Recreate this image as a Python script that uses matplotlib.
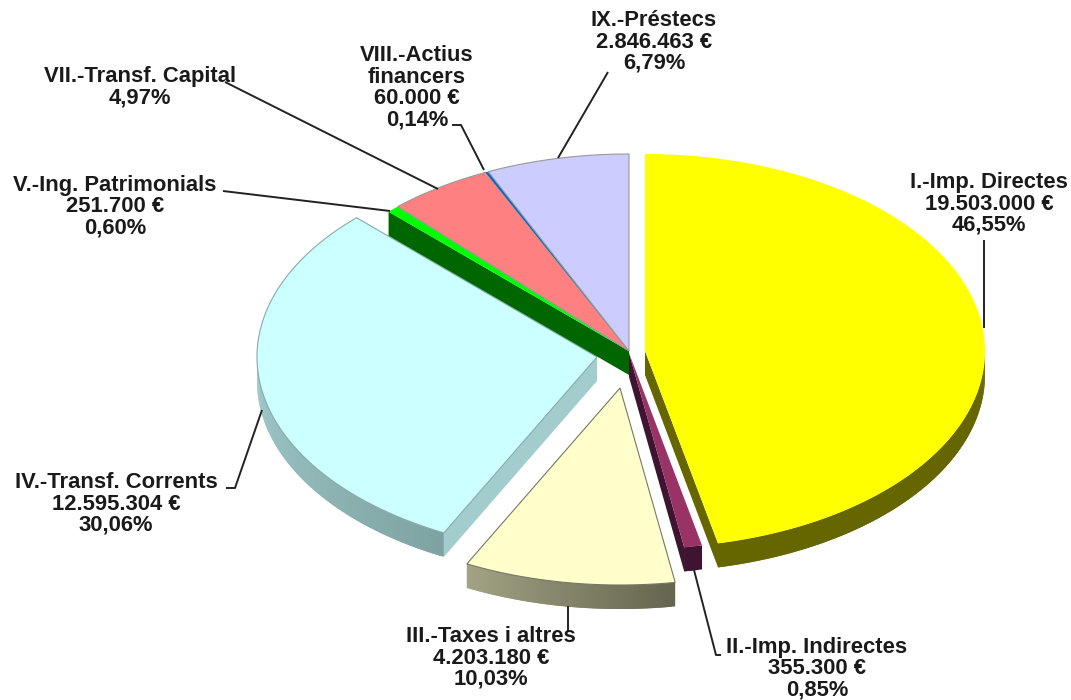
import numpy as np
import matplotlib
matplotlib.use("Agg")
import matplotlib.pyplot as plt
from matplotlib.patches import Polygon
from matplotlib.colors import to_rgb

plt.rcParams['font.family'] = ['Liberation Sans', 'DejaVu Sans']

# data
names = ["I.-Imp. Directes", "II.-Imp. Indirectes", "III.-Taxes i altres", "IV.-Transf. Corrents",
         "V.-Ing. Patrimonials", "VII.-Transf. Capital", "VIII.-Actius\nfinancers", "IX.-Préstecs"]
amounts = ["19.503.000 €", "355.300 €", "4.203.180 €", "12.595.304 €",
           "251.700 €", "", "60.000 €", "2.846.463 €"]
shares = [46.55, 0.85, 10.03, 30.06, 0.60, 4.97, 0.14, 6.79]

# style
tops = ["#FFFF00", "#993366", "#FFFFCC", "#CCFFFF", "#00FF00", "#FF8080", "#0066CC", "#CCCCFF"]
wall_a = ["#666600", "#3F1430", "#A3A385", "#A3CCCC", "#006600", "#803C3C", "#004488", "#8888AA"]
wall_b = ["#666600", "#3F1430", "#666650", "#7FA3A3", "#006600", "#803C3C", "#004488", "#8888AA"]
centers = [(645, 351), (629, 353), (620, 388), (597, 357), (629, 351), (629, 351), (629, 351), (629, 351)]
edges = ["none", "none", "#777766", "#88AAAA", "none", "#999999", "none", "#999999"]
draw_order = [7, 6, 5, 4, 3, 1, 2, 0]
RX, RY, DEPTH = 340, 197, 24

label_pos = [(989, 204), (817, 669), (491, 658), (116, 504), (115, 207), (140, 87), (417, 88), (654, 42)]
leaders = [[(984, 328), (984, 240)],
           [(694, 570), (716, 655), (721, 655)],
           [(568, 606), (568, 632)],
           [(262, 410), (235, 488), (226, 488)],
           [(390, 211), (223, 191)],
           [(438, 189), (225, 82)],
           [(484, 170), (461, 125), (452, 125)],
           [(558, 158), (608, 72)]]

fig = plt.figure(figsize=(10.71, 7.0), dpi=100, facecolor="white")
ax = fig.add_axes([0, 0, 1, 1])
ax.set_xlim(0, 1071)
ax.set_ylim(700, 0)
ax.axis("off")


def pt(c, a, r=1.0):
    return c[0] + RX * r * np.sin(a), c[1] - RY * r * np.cos(a)


stops = np.cumsum([0] + shares) / sum(shares) * 2 * np.pi
N = len(shares)
for i in draw_order:
    a0, a1 = stops[i], stops[i + 1]
    c = centers[i]
    z = 2 * i
    # radial cut faces that look towards the viewer and are not hidden by a neighbour
    for a, visible, nb in ((a1, np.sin(a1) > 0, (i + 1) % N), (a0, np.sin(a0) < 0, (i - 1) % N)):
        if visible and centers[nb] != c:
            x, y = pt(c, a)
            ax.add_patch(Polygon([c, (x, y), (x, y + DEPTH), (c[0], c[1] + DEPTH)],
                                 fc=wall_a[i], ec="none", zorder=z))
    # outer rim, in the front half only
    lo, hi = max(a0, np.pi / 2), min(a1, 1.5 * np.pi)
    if hi > lo:
        ca, cb = np.array(to_rgb(wall_a[i])), np.array(to_rgb(wall_b[i]))
        n = max(2, int((hi - lo) / 0.01))
        grid = np.linspace(lo, hi, n + 1)
        for k in range(n):
            t = (k + 0.5) / n
            # lighter end sits on the left of the picture
            col = ca + (cb - ca) * (1 - t)
            # each strip overlaps the next so no seams show
            end = grid[min(k + 2, n)]
            (x0, y0), (x1, y1) = pt(c, grid[k]), pt(c, end)
            ax.add_patch(Polygon([(x0, y0), (x1, y1), (x1, y1 + DEPTH), (x0, y0 + DEPTH)],
                                 fc=col, ec="none", zorder=z + 0.1 + 0.0001 * (n - k)))
    # top face
    arc = np.linspace(a0, a1, max(3, int((a1 - a0) / 0.01)))
    xs, ys = pt(c, arc)
    verts = [c] + list(zip(xs, ys))
    ax.add_patch(Polygon(verts, closed=True, fc=tops[i], ec=edges[i], lw=0.8, zorder=z + 0.5))

for i, name in enumerate(names):
    pct = f"{shares[i]:.2f}%".replace(".", ",")
    body = "\n".join(s for s in (name, amounts[i], pct) if s)
    x, y = label_pos[i]
    ax.text(x, y, body, ha="center", va="center", fontsize=15.8, fontweight="bold",
            color="#1A1A1A", linespacing=1.03, zorder=40)
    ls = np.array(leaders[i])
    ax.plot(ls[:, 0], ls[:, 1], color="#222222", lw=1.4, zorder=30, solid_capstyle="butt")

fig.savefig("out.png", dpi=100, facecolor="white")
